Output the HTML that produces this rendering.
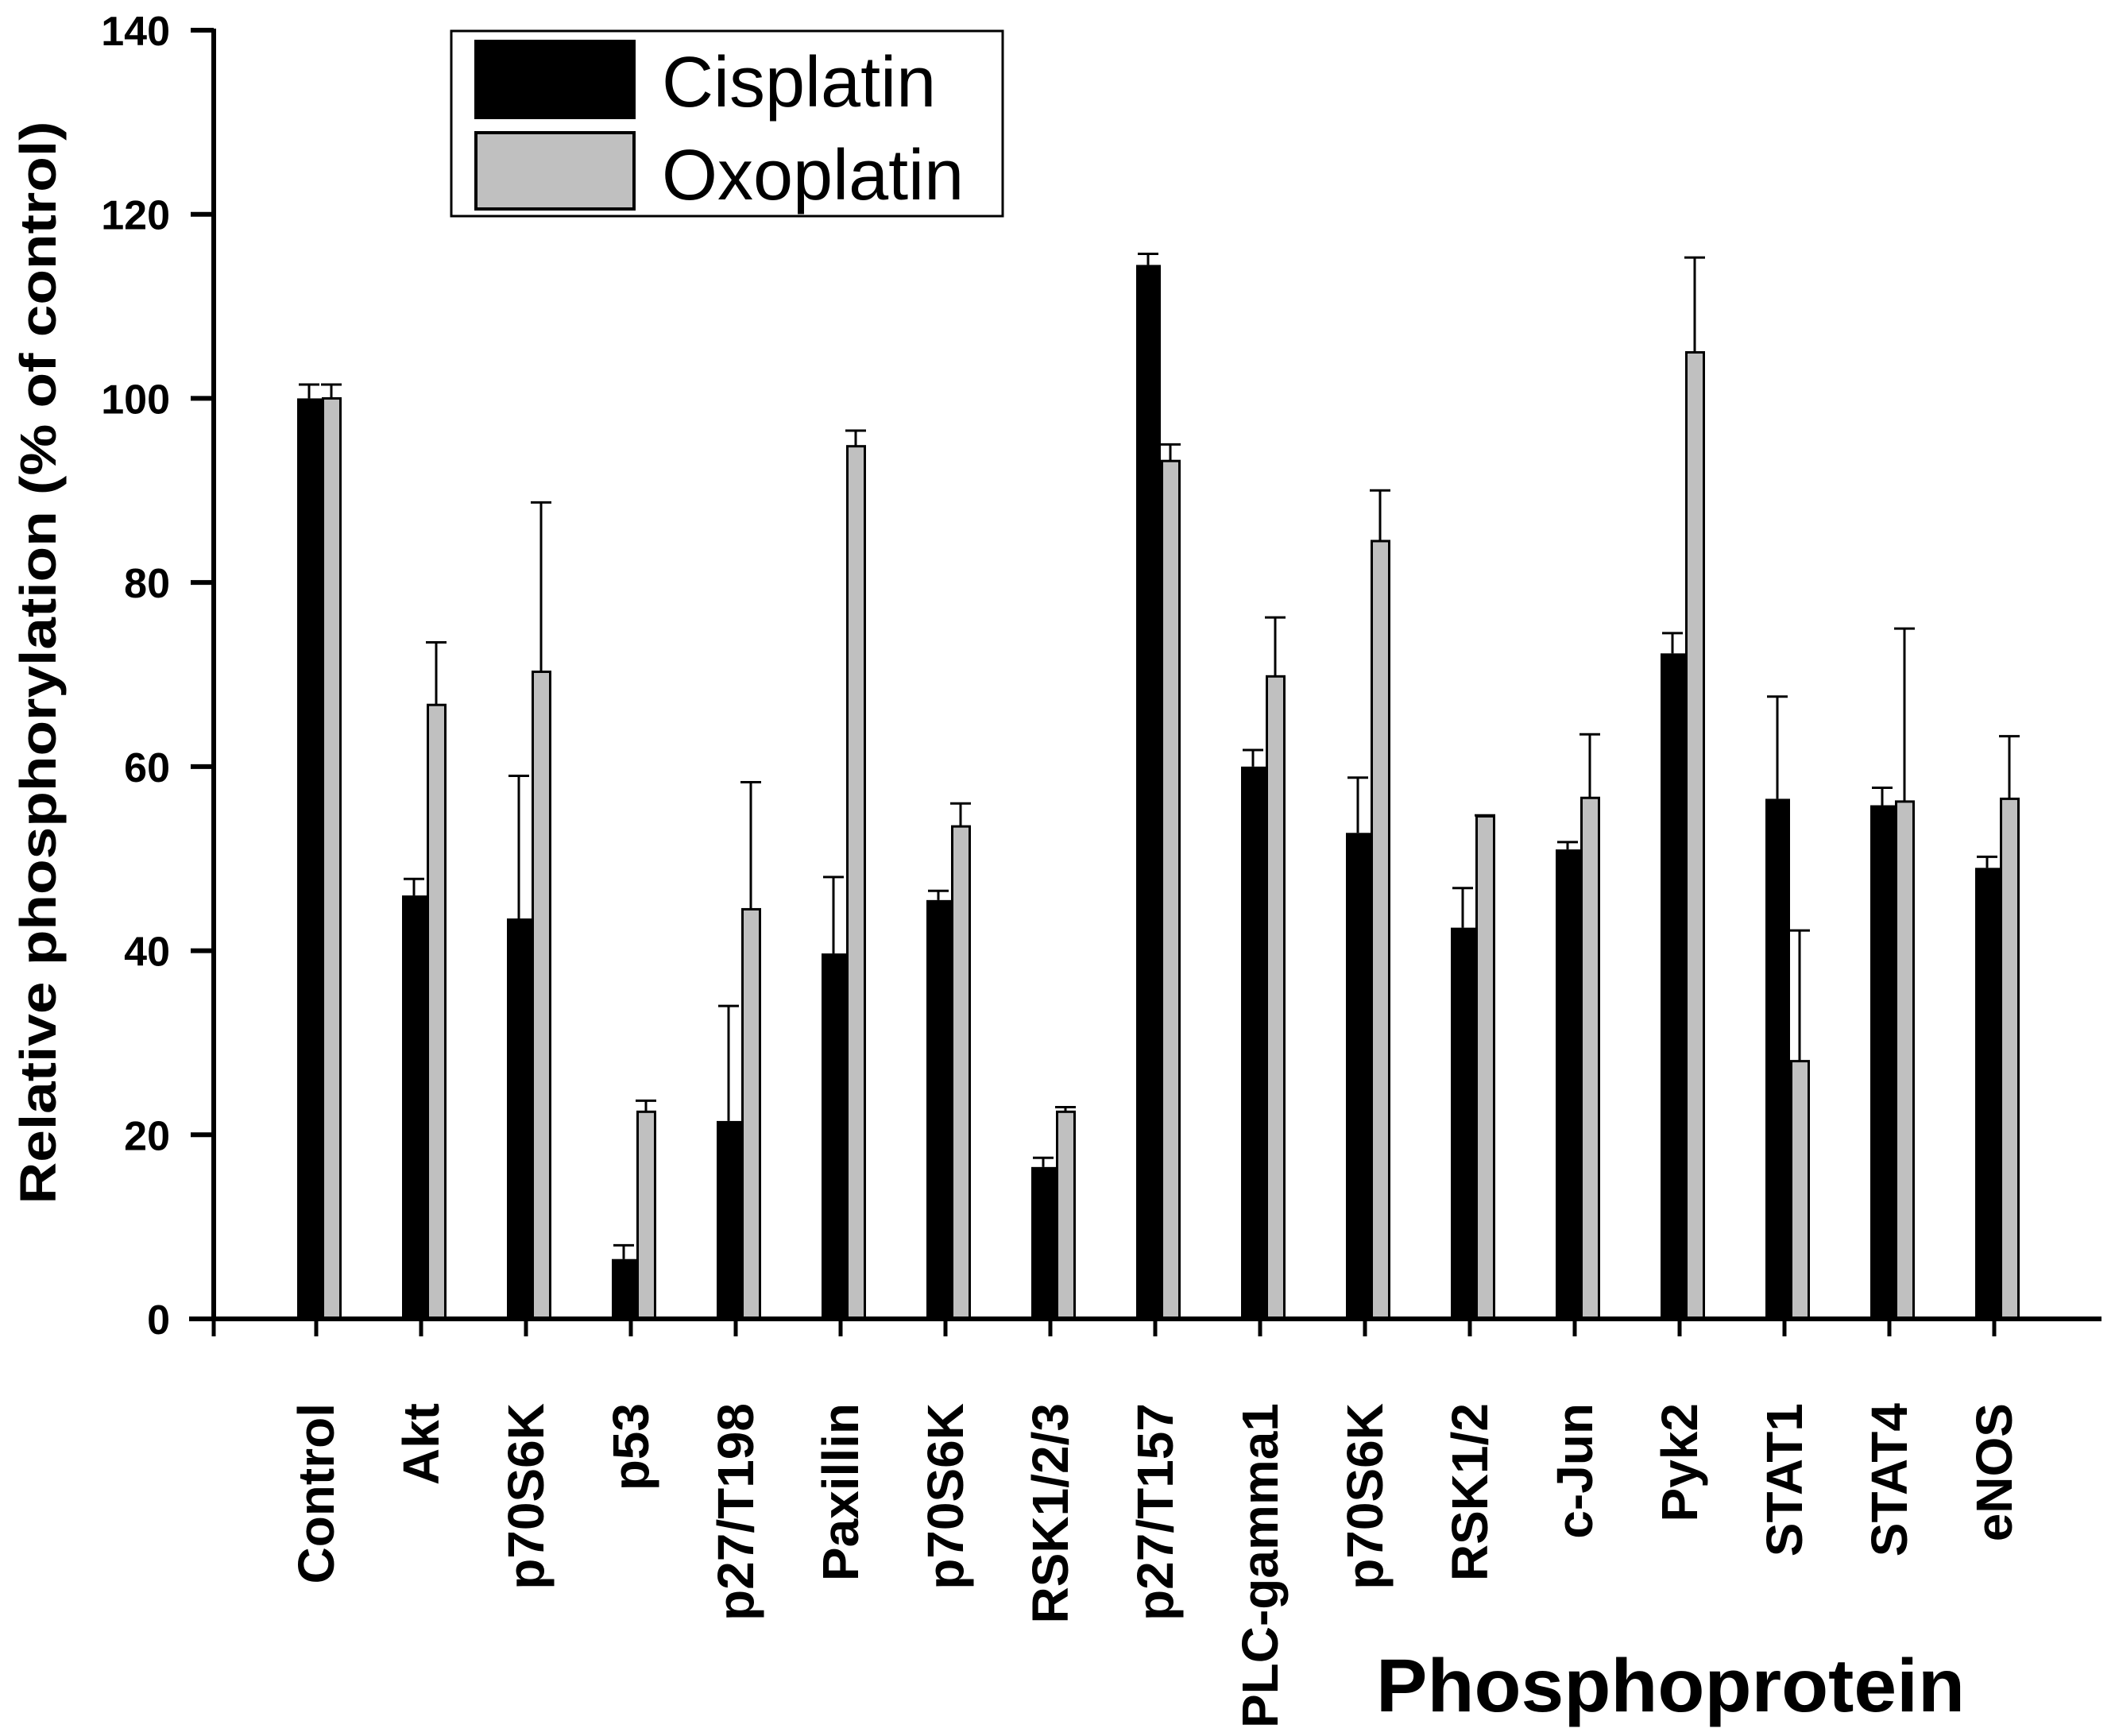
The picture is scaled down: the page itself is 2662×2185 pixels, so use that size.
<!DOCTYPE html>
<html><head><meta charset="utf-8"><style>
html,body{margin:0;padding:0;background:#fff;}
svg{display:block;}
text{font-family:"Liberation Sans",sans-serif;}
</style></head><body>
<svg id="chart" width="2662" height="2185" viewBox="0 0 2662 2185" xmlns="http://www.w3.org/2000/svg">
<g id="bars"></g>
<g id="axes"></g>
<g>
  <rect x="568" y="39" width="694" height="233" fill="#fff" stroke="#000" stroke-width="3"/>
  <rect x="597" y="50" width="203" height="100" fill="#000"/>
  <text x="833" y="134" font-size="90">Cisplatin</text>
  <rect x="599" y="167" width="199" height="96" fill="#c0c0c0" stroke="#000" stroke-width="4"/>
  <text x="833" y="251" font-size="90">Oxoplatin</text>
</g>
<text transform="translate(70,834) rotate(-90)" text-anchor="middle" font-size="64" font-weight="bold" textLength="1363" lengthAdjust="spacingAndGlyphs">Relative phosphorylation (% of control)</text>
<text x="1732" y="2154" font-size="95" font-weight="bold" textLength="741" lengthAdjust="spacingAndGlyphs">Phosphoprotein</text>
</svg>
<script>
const categories = ["Control","Akt","p70S6K","p53","p27/T198","Paxillin","p70S6K","RSK1/2/3","p27/T157","PLC-gamma1","p70S6K","RSK1/2","c-Jun","Pyk2","STAT1","STAT4","eNOS"];
const cisplatin = [100,46,43.5,6.5,21.5,39.7,45.5,16.5,114.5,60,52.8,42.5,51,72.3,56.5,55.8,49];
const cisplatinErr = [1.5,1.8,15.5,1.5,12.5,8.3,1,1,1.2,1.8,6,4.3,0.8,2.2,11.1,1.9,1.2];
const oxoplatin = [100,66.7,70.3,22.5,44.5,94.8,53.5,22.5,93.2,69.8,84.5,54.6,56.6,105,28,56.2,56.5];
const oxoplatinErr = [1.5,6.8,18.4,1.2,13.8,1.7,2.5,0.5,1.8,6.4,5.5,0.1,6.9,10.3,14.2,18.8,6.8];
const yTicks = [0,20,40,60,80,100,120,140];

const NS="http://www.w3.org/2000/svg";
const y0=1660, yTop=38, yMax=140;
function yScale(v){return y0-(v/yMax)*(y0-yTop);}
const x0=398, step=132;
function xScale(i){return x0+i*step;}
function mk(tag,attrs,parent){const e=document.createElementNS(NS,tag);for(const k in attrs)e.setAttribute(k,attrs[k]);parent.appendChild(e);return e;}

const bars=document.getElementById('bars');
function errBar(cx,v,err,name){
  const yt=yScale(v+err), yb=yScale(v);
  const l=mk('line',{x1:cx,x2:cx,y1:yb,y2:yt,stroke:'#000','stroke-width':3},bars);
  
  
  const c=mk('line',{x1:cx-13,x2:cx+13,y1:yt,y2:yt,stroke:'#000','stroke-width':3},bars);
  
  
}
categories.forEach((cat,i)=>{
  const c=xScale(i);
  errBar(c-9,cisplatin[i],cisplatinErr[i],'cisplatin-'+i);
  errBar(c+19,oxoplatin[i],oxoplatinErr[i],'oxoplatin-'+i);
  const b=mk('rect',{x:c-24,y:yScale(cisplatin[i]),width:31,height:y0-yScale(cisplatin[i]),fill:'#000'},bars);
  
  
  const g=mk('rect',{x:c+8.5,y:yScale(oxoplatin[i]),width:22,height:y0-yScale(oxoplatin[i]),fill:'#c0c0c0',stroke:'#000','stroke-width':3},bars);
  
  
});

const axes=document.getElementById('axes');
const ya=mk('line',{x1:269,x2:269,y1:yTop-2,y2:y0+3,stroke:'#000','stroke-width':6},axes);


const xa=mk('line',{x1:238,x2:2645,y1:y0,y2:y0,stroke:'#000','stroke-width':6},axes);


yTicks.forEach(t=>{
  const y=yScale(t);
  const tk=mk('line',{x1:240,x2:269,y1:y,y2:y,stroke:'#000','stroke-width':6},axes);
  
  
  const tx=mk('text',{x:214,y:y+19,'text-anchor':'end','font-size':52,'font-weight':'bold'},axes);
  tx.textContent=t;
  
  
});
const t0=mk('line',{x1:269,x2:269,y1:y0,y2:y0+22,stroke:'#000','stroke-width':5},axes);


categories.forEach((cat,i)=>{
  const c=xScale(i);
  const tk=mk('line',{x1:c,x2:c,y1:y0,y2:y0+22,stroke:'#000','stroke-width':5},axes);
  
  
  const tx=mk('text',{transform:'translate('+(c+22)+',1766) rotate(-90)','text-anchor':'end','font-size':64,'font-weight':'bold'},axes);
  tx.textContent=cat;
  
  
});
</script>
</body></html>
